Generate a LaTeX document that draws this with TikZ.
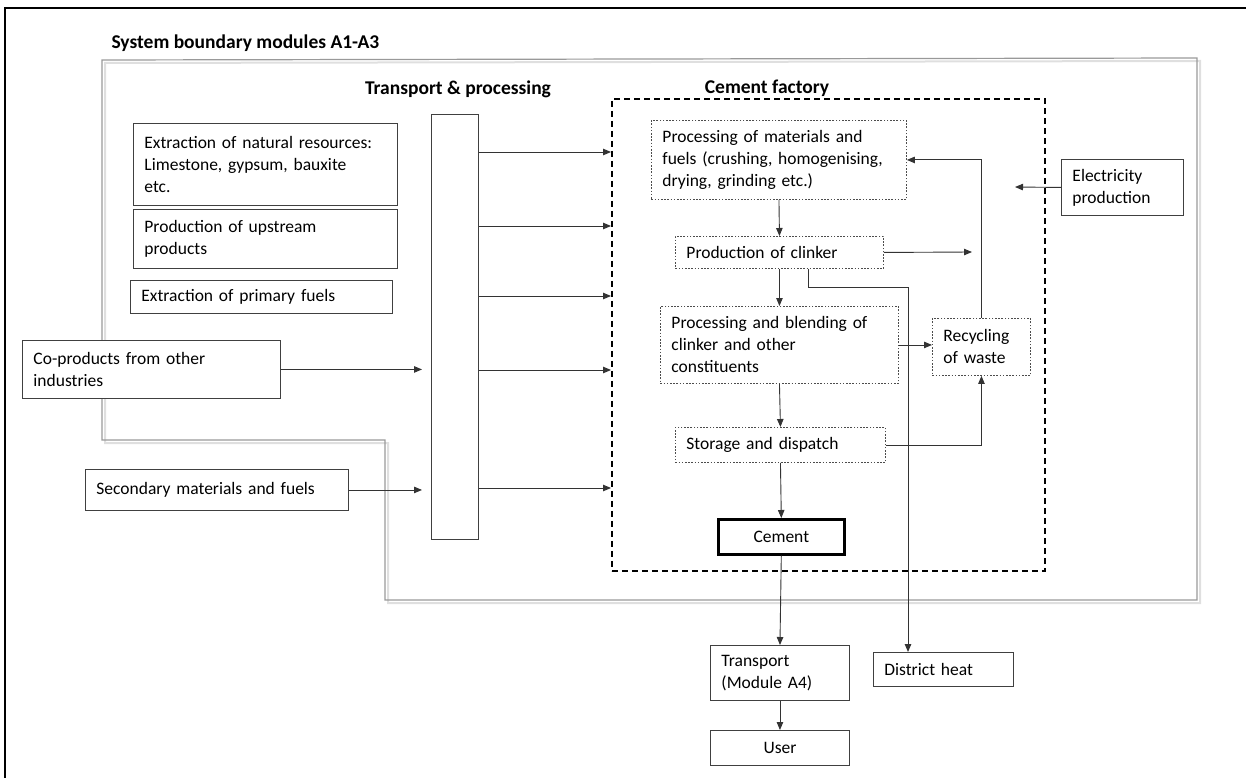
\documentclass[tikz,border=0pt]{standalone}
\usepackage{fontspec}
\setmainfont{Carlito}
\usetikzlibrary{arrows.meta}
\begin{document}
\begin{tikzpicture}[x=1pt,y=-1pt,
    txt/.style={font=\fontsize{17.5}{22}\selectfont},
    blk/.style={txt,draw=black!75,fill=white,line width=0.9pt,align=left,
        inner xsep=11pt,inner ysep=0pt,anchor=north west},
    dotbox/.style={blk,draw=black!70,dash pattern=on 1.6pt off 1.6pt},
    flow/.style={draw=black!80,line width=0.9pt,-{Triangle[length=8pt,width=6.5pt]}},
    title/.style={font=\fontsize{19.5}{22}\bfseries\selectfont}]
    \useasboundingbox (0,0) rectangle (1246,778);
    \draw[line width=1.6pt] (5,778) -- (5,8) -- (1246,8);

    \draw[gray!25,line width=2pt] (105,63) -- (1200,61) -- (1200,603) -- (388,603)
        -- (388,443) -- (105,443) -- cycle;
    \draw[gray!80,line width=1.2pt] (102,60) -- (1197,58) -- (1197,600) -- (385,600)
        -- (385,440) -- (102,440) -- cycle;

    \node[title,anchor=west] (sysb) at (108,43) {System boundary modules A1-A3};
    \node[title] (tplabel) at (458,89) {Transport \& processing};

    \node[draw,line width=1.8pt,dash pattern=on 6pt off 4pt,anchor=north west,
        minimum width=433,minimum height=472] (factory) at (611,98) {};
    \node[title,fill=white,inner xsep=1pt,inner ysep=0pt] (cflabel) at (767,88) {Cement factory};

    \begin{scope}
        \node[blk,text width=242,minimum height=82] (natres) at (133,123)
            {Extraction of natural resources:\\Limestone, gypsum, bauxite\\etc.};
        \node[blk,text width=242,minimum height=59] (upstream) at (133,209)
            {Production of upstream\\products};
        \node[blk,text width=240,minimum height=33] (primfuel) at (130,280)
            {Extraction of primary fuels};
        \node[blk,text width=236,minimum height=58] (coprod) at (22,340)
            {Co-products from other\\industries};
        \node[blk,text width=241,minimum height=41] (second) at (85,469)
            {Secondary materials and fuels};
        \node[blk,line width=1.3pt,minimum width=47,minimum height=425,inner xsep=0pt] (bar) at (431,114) {};

        \node[dotbox,text width=233,minimum height=79] (procmat) at (651,120)
            {Processing of materials and\\fuels (crushing, homogenising,\\drying, grinding etc.)};
        \node[dotbox,text width=186,minimum height=32] (clinker) at (675,236)
            {Production of clinker};
        \node[dotbox,text width=216,minimum height=77] (blend) at (660,306)
            {Processing and blending of\\clinker and other\\constituents};
        \node[dotbox,text width=76,minimum height=57] (recyc) at (932,318)
            {Recycling\\of waste};
        \node[dotbox,text width=188,minimum height=35] (storage) at (675,427)
            {Storage and dispatch};
        \node[blk,line width=2.6pt,draw=black,align=center,text width=104,minimum height=35] (cement) at (717,518)
            {Cement};

        \node[blk,text width=100,minimum height=56] (elec) at (1061,159)
            {Electricity\\production};
        \node[blk,text width=117,minimum height=55] (transport) at (710,645)
            {Transport\\(Module A4)};
        \node[blk,text width=118,minimum height=34] (dheat) at (873,652)
            {District heat};
        \node[blk,align=center,text width=117,minimum height=35] (user) at (710,730)
            {User};
    \end{scope}

    \coordinate (clkout) at (972,252);
    \coordinate (elecin) at (1015,187);

    \foreach \y in {152,226,296,370,488}
        \draw[flow] (bar.east |- 0,\y) -- (factory.west |- 0,\y);
    \draw[flow,shorten >=9pt] (coprod.east) -- (bar.west |- coprod.east);
    \draw[flow,shorten >=9pt] (second.east) -- (bar.west |- second.east);

    \path (procmat.south) edge[flow] (clinker.north);
    \path (clinker.south) edge[flow] (blend.north);
    \path (clinker.east) edge[flow] (clkout);
    \path (blend.east) edge[flow] (recyc.west |- blend.east);
    \path (blend.south) edge[flow] (storage.north);
    \path (storage.south) edge[flow] (cement.north);
    \path (cement.south) edge[flow] (transport.north);
    \path (transport.south) edge[flow] (user.north);
    \path (elec.west) edge[flow] (elecin);

    \draw[flow] (recyc.north) |- (procmat.east);
    \draw[flow] (storage.east) -| (recyc.south);
    \draw[flow] (clinker.south -| 808,0) -- (808,287) -| (dheat.north -| 908,0);
\end{tikzpicture}
\end{document}
